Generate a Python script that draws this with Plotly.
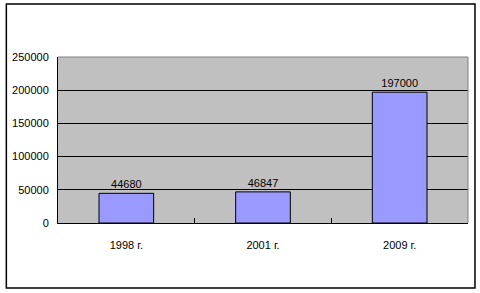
import plotly.graph_objects as go

categories = ["1998 г.", "2001 г.", "2009 г."]
values = [44680, 46847, 197000]
y_ticks = [0, 50000, 100000, 150000, 200000, 250000]

fig = go.Figure()
fig.add_trace(go.Bar(
    x=categories, y=values,
    marker=dict(color="#9999FF", line=dict(color="black", width=1)),
    text=[str(v) for v in values], textposition="outside",
    textfont=dict(size=11, color="black"),
    cliponaxis=False, width=0.4,
))

fig.update_layout(
    width=480, height=293,
    margin=dict(l=56, r=12, t=57, b=70),
    paper_bgcolor="white", plot_bgcolor="#C0C0C0",
    font=dict(family="Liberation Sans, DejaVu Sans, sans-serif", size=11, color="black"),
    showlegend=False,
    xaxis=dict(showline=True, linecolor="black", linewidth=1,
               ticks="inside", tickson="boundaries", ticklen=5, tickcolor="black",
               showgrid=False, ticklabelstandoff=12),
    yaxis=dict(range=[0, 250000], tickvals=y_ticks,
               ticktext=[str(t) for t in y_ticks],
               showline=True, linecolor="black", linewidth=1,
               showgrid=True, gridcolor="black", gridwidth=1,
               zeroline=False, ticks="", ticklabelstandoff=6),
    shapes=[
        dict(type="line", xref="paper", yref="paper", x0=0, x1=1, y0=1, y1=1,
             line=dict(color="#808080", width=1), layer="above"),
        dict(type="line", xref="paper", yref="paper", x0=1, x1=1, y0=0, y1=1,
             line=dict(color="#808080", width=1), layer="above"),
        dict(type="rect", xref="paper", yref="paper", x0=-0.126, x1=1.017,
             y0=-0.392, y1=1.319, line=dict(color="black", width=1.5)),
    ],
)

fig.write_html("out.html")
